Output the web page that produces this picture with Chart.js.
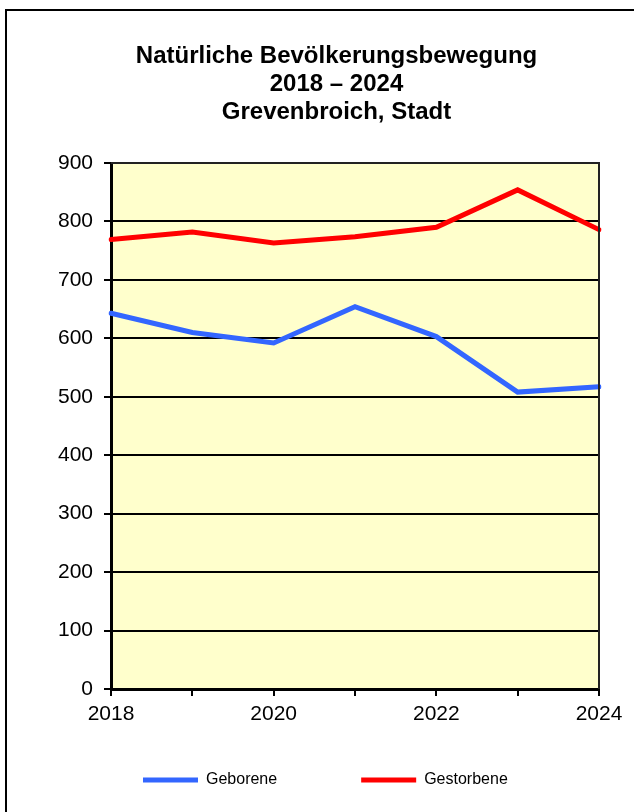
<!DOCTYPE html>
<html>
<head>
<meta charset="utf-8">
<script src="https://cdn.jsdelivr.net/npm/chart.js@4"></script>
<style>
  html, body { margin: 0; padding: 0; background: #fff; }
  #wrap { width: 634px; height: 812px; }
</style>
</head>
<body>
<div id="wrap"><canvas id="chart" width="634" height="812"></canvas></div>
<script>
const years = ['2018', '2019', '2020', '2021', '2022', '2023', '2024']
const shownYears = ['2018', '2020', '2022', '2024']
const geborene = [643, 610, 592, 654, 603, 508, 517]
const gestorbene = [769, 782, 763, 774, 790, 854, 786]
const titleLines = ['Natürliche Bevölkerungsbewegung', '2018 – 2024', 'Grevenbroich, Stadt']

const FONT = "'Liberation Sans', Arial, sans-serif"
// trailing blanks widen the legend entries so they sit apart like the original
const legendGap = [18, 5]

// yellow plot background, plot border and the outer frame
const decor = {
    id: 'decor',
    beforeDraw(chart) {
        const {ctx, chartArea: a} = chart
        ctx.save()
        ctx.fillStyle = '#ffffcc'
        ctx.fillRect(a.left, a.top, a.right - a.left, a.bottom - a.top)
        ctx.strokeStyle = '#000'
        ctx.lineWidth = 2
        ctx.strokeRect(6, 10, 700, 900)
        ctx.restore()
    },
    afterDatasetsDraw(chart) {
        const {ctx, chartArea: a} = chart
        ctx.save()
        ctx.strokeStyle = '#222'
        ctx.lineWidth = 2
        ctx.beginPath()
        ctx.moveTo(a.left, a.top)
        ctx.lineTo(a.right, a.top)
        ctx.lineTo(a.right, a.bottom)
        ctx.stroke()
        ctx.restore()
    }
}

new Chart(document.getElementById('chart'), {
    type: 'line',
    data: {
        labels: years,
        datasets: [{
            label: 'Geborene',
            data: geborene,
            borderColor: '#3366ff',
            backgroundColor: '#3366ff',
            borderWidth: 5,
            borderCapStyle: 'round',
            pointRadius: 0,
            tension: 0
        }, {
            label: 'Gestorbene',
            data: gestorbene,
            borderColor: '#ff0000',
            backgroundColor: '#ff0000',
            borderWidth: 5,
            borderCapStyle: 'round',
            pointRadius: 0,
            tension: 0
        }]
    },
    options: {
        responsive: false,
        animation: false,
        layout: {
            padding: {left: 40, right: 1, top: 0, bottom: 14}
        },
        scales: {
            x: {
                offset: false,
                afterFit(scale) { scale.height = 79 },
                grid: {
                    drawOnChartArea: false,
                    drawTicks: true,
                    tickLength: 7,
                    color: '#000',
                    lineWidth: 2
                },
                border: {color: '#000', width: 3},
                ticks: {
                    autoSkip: false,
                    maxRotation: 0,
                    padding: 6,
                    color: '#000',
                    font: {family: FONT, size: 21},
                    callback(value, i) {
                        return shownYears.includes(years[i]) ? years[i] : ''
                    }
                }
            },
            y: {
                min: 0,
                max: 900,
                afterFit(scale) { scale.width = 71 },
                grid: {
                    color: '#000',
                    lineWidth: 2,
                    tickLength: 7
                },
                border: {color: '#000', width: 3},
                ticks: {
                    stepSize: 100,
                    padding: 11,
                    color: '#000',
                    font: {family: FONT, size: 21}
                }
            },
            // empty spacer on the right so the title centres like the original
            y2: {
                type: 'linear',
                position: 'right',
                display: true,
                afterFit(scale) { scale.width = 34 },
                grid: {display: false},
                border: {display: false},
                ticks: {display: false}
            }
        },
        plugins: {
            title: {
                display: true,
                text: titleLines,
                color: '#000',
                font: {family: FONT, size: 24, weight: 'bold', lineHeight: 28 / 24},
                padding: {top: 42, bottom: 37}
            },
            legend: {
                position: 'bottom',
                labels: {
                    usePointStyle: true,
                    pointStyle: 'line',
                    pointStyleWidth: 55,
                    padding: 4,
                    color: '#000',
                    font: {family: FONT, size: 16},
                    generateLabels(chart) {
                        const items = Chart.defaults.plugins.legend.labels.generateLabels(chart)
                        items.forEach((item, i) => { item.text += ' '.repeat(legendGap[i]) })
                        return items
                    }
                }
            },
            tooltip: {enabled: false}
        }
    },
    plugins: [decor]
});
</script>
</body>
</html>
